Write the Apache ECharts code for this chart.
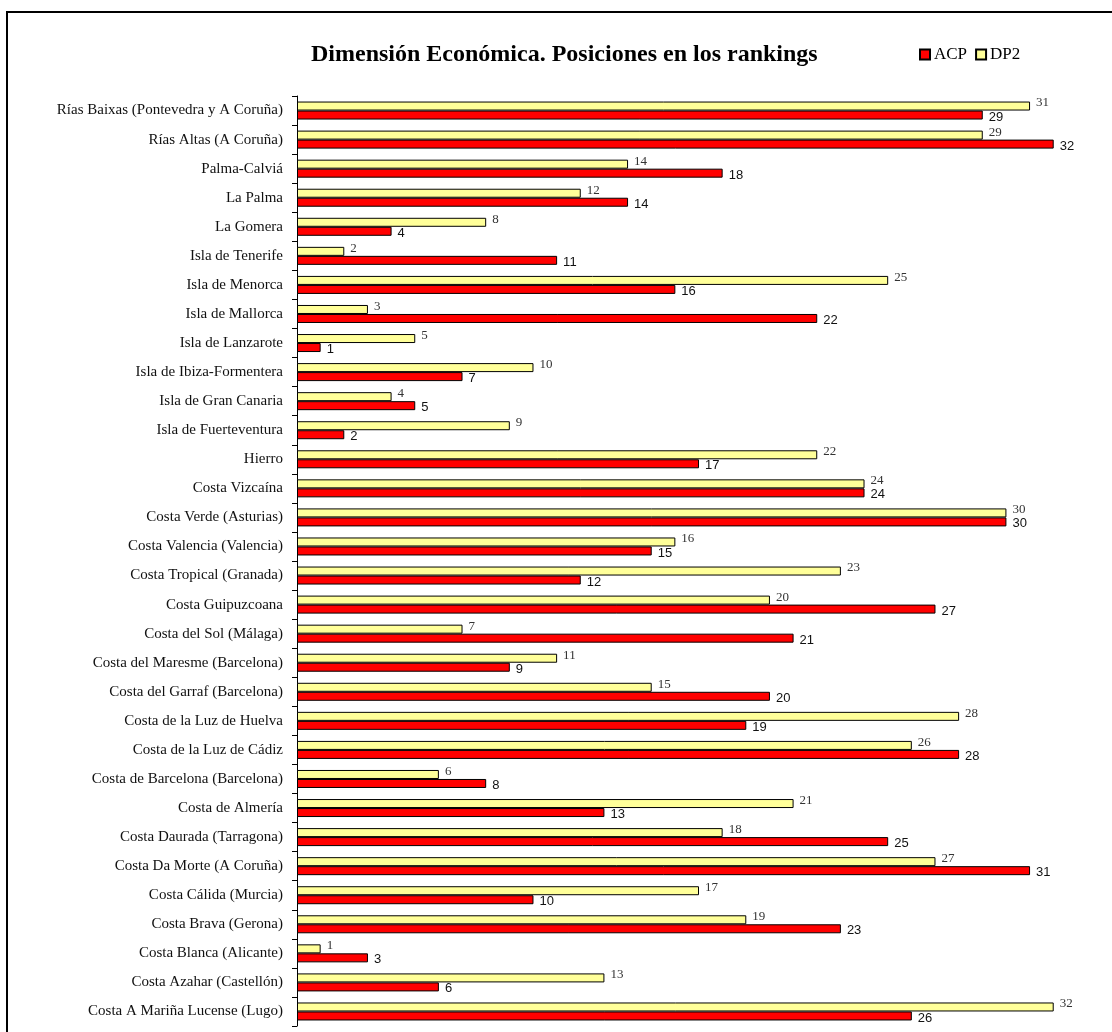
<!DOCTYPE html>
<html>
<head>
<meta charset="utf-8">
<script src="https://cdn.jsdelivr.net/npm/echarts@6/dist/echarts.min.js"></script>
<style>
  html, body { margin: 0; padding: 0; background: #fff; }
  #chart { width: 1112px; height: 1032px; }
</style>
</head>
<body>
<div id="chart"></div>
<script>
// Destinations, listed top to bottom
const destinos = [
  'Rías Baixas (Pontevedra y A Coruña)',
  'Rías Altas (A Coruña)',
  'Palma-Calviá',
  'La Palma',
  'La Gomera',
  'Isla de Tenerife',
  'Isla de Menorca',
  'Isla de Mallorca',
  'Isla de Lanzarote',
  'Isla de Ibiza-Formentera',
  'Isla de Gran Canaria',
  'Isla de Fuerteventura',
  'Hierro',
  'Costa Vizcaína',
  'Costa Verde (Asturias)',
  'Costa Valencia (Valencia)',
  'Costa Tropical (Granada)',
  'Costa Guipuzcoana',
  'Costa del Sol (Málaga)',
  'Costa del Maresme (Barcelona)',
  'Costa del Garraf (Barcelona)',
  'Costa de la Luz de Huelva',
  'Costa de la Luz de Cádiz',
  'Costa de Barcelona (Barcelona)',
  'Costa de Almería',
  'Costa Daurada (Tarragona)',
  'Costa Da Morte (A Coruña)',
  'Costa Cálida (Murcia)',
  'Costa Brava (Gerona)',
  'Costa Blanca (Alicante)',
  'Costa Azahar (Castellón)',
  'Costa A Mariña Lucense (Lugo)'
];

// Ranking positions per method
const dp2 = [31, 29, 14, 12, 8, 2, 25, 3, 5, 10, 4, 9, 22, 24, 30, 16, 23, 20, 7, 11, 15, 28, 26, 6, 21, 18, 27, 17, 19, 1, 13, 32];
const acp = [29, 32, 18, 14, 4, 11, 16, 22, 1, 7, 5, 2, 17, 24, 30, 15, 12, 27, 21, 9, 20, 19, 28, 8, 13, 25, 31, 10, 23, 3, 6, 26];

const titulo = 'Dimensión Económica. Posiciones en los rankings';

const chart = echarts.init(document.getElementById('chart'), null, { renderer: 'canvas' });

chart.setOption({
  animation: false,
  backgroundColor: '#ffffff',
  title: {
    text: titulo,
    left: 311,
    top: 43,
    padding: 0,
    textStyle: {
      fontFamily: 'Liberation Serif',
      fontWeight: 'bold',
      fontSize: 24,
      color: '#000'
    }
  },
  legend: {
    data: ['ACP', 'DP2'],
    left: 919,
    top: 46,
    padding: 0,
    icon: 'rect',
    itemWidth: 10,
    itemHeight: 10,
    itemGap: 8,
    textStyle: {
      fontFamily: 'Liberation Serif',
      fontSize: 17,
      color: '#000',
      padding: [0, 0, 0, -1]
    }
  },
  graphic: [{
    type: 'rect',
    shape: { x: 7, y: 12, width: 1130, height: 1060 },
    style: { fill: null, stroke: '#000', lineWidth: 2 },
    silent: true,
    z: -1
  }],
  grid: {
    left: 297,
    right: 11,
    top: 96,
    bottom: 6,
    containLabel: false
  },
  xAxis: {
    type: 'value',
    min: 0,
    max: 34,
    show: false,
    splitLine: { show: false }
  },
  yAxis: {
    type: 'category',
    data: destinos,
    inverse: true,
    axisLine: { show: true, lineStyle: { color: '#000', width: 1 } },
    axisTick: { show: true, length: 5, lineStyle: { color: '#000' } },
    axisLabel: {
      margin: 14,
      fontFamily: 'Liberation Serif',
      fontSize: 15,
      color: '#111',
      padding: [3, 0, 0, 0]
    }
  },
  series: [
    {
      name: 'DP2',
      type: 'bar',
      data: dp2,
      barWidth: 9,
      barGap: '0%',
      itemStyle: { color: '#ffff99', borderColor: '#000', borderWidth: 1 },
      label: {
        show: true,
        position: 'right',
        distance: 6,
        offset: [0, -3],
        fontFamily: 'Liberation Serif',
        fontSize: 13,
        color: '#333'
      }
    },
    {
      name: 'ACP',
      type: 'bar',
      data: acp,
      barWidth: 9,
      barGap: '0%',
      itemStyle: { color: '#ff0000', borderColor: '#000', borderWidth: 1 },
      label: {
        show: true,
        position: 'right',
        distance: 6,
        offset: [0, 2],
        fontFamily: 'Liberation Sans',
        fontSize: 13,
        color: '#111'
      }
    }
  ]
});
</script>
</body>
</html>
